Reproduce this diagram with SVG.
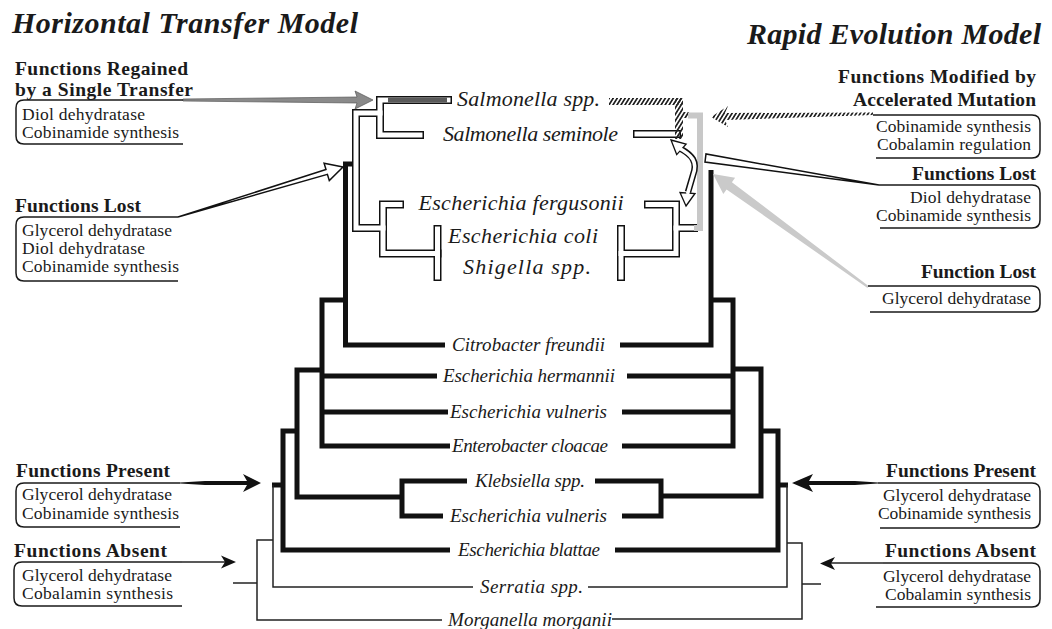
<svg xmlns="http://www.w3.org/2000/svg" xmlns:xlink="http://www.w3.org/1999/xlink" width="1052" height="629" viewBox="0 0 1052 629" font-family="'Liberation Serif', 'DejaVu Serif', serif">
<style>
text{font-family:'Liberation Serif','DejaVu Serif',serif;fill:#1a1a1a}
.title{font-weight:bold;font-style:italic;font-size:30px}
.hd{font-weight:bold;font-size:19.5px}
.bt{font-size:17.5px}
.sp{font-style:italic;font-size:19px;text-anchor:middle}
.spL{font-style:italic;font-size:22px;text-anchor:middle}
.end{text-anchor:end}
.br{fill:none;stroke:#1a1a1a;stroke-width:1.5}
.blk{fill:none;stroke:#111;stroke-width:5;stroke-linejoin:miter}
.thin{fill:none;stroke:#222;stroke-width:1.5}
.ob{fill:none;stroke:#111;stroke-width:8;stroke-linecap:square;stroke-linejoin:miter}
.ow{fill:none;stroke:#fff;stroke-width:5;stroke-linecap:square;stroke-linejoin:miter}
.hat{fill:url(#hatch)}
</style>
<defs>
<pattern id="hatch" width="3.4" height="10" patternUnits="userSpaceOnUse" patternTransform="rotate(32)">
<rect width="1.7" height="10" fill="#222"/>
</pattern>
<g id="outl">
<path d="M448,100 H380 V135 H420"/>
<path d="M380,113 H356 V228 H383"/>
<path d="M400,204.5 H383 V253.5 H437.5"/>
<path d="M437.5,229 V277"/>
<path d="M637,134 H677"/>
<path d="M648,204.5 H676 V253.5 H621"/>
<path d="M676,228 H694"/>
<path d="M621,229 V277"/>
</g>
</defs>
<rect width="1052" height="629" fill="#fff"/>

<g id="titles" font-family="Liberation Serif">
<text class="title" x="12" y="33" textLength="346" font-family="Liberation Serif">Horizontal Transfer Model</text>
<text class="title end" x="1041" y="44" textLength="294" font-family="Liberation Serif">Rapid Evolution Model</text>
</g>

<g id="connectors">
<use xlink:href="#outl" class="ob"/>
<use xlink:href="#outl" class="ow"/>
<path d="M388,100 H447" fill="none" stroke="#5a5a5a" stroke-width="5"/>
<rect class="hat" x="609" y="98" width="74" height="7"/>
<rect class="hat" x="675" y="98" width="8" height="41"/>
<rect class="hat" x="683" y="112" width="6" height="6"/>
<path d="M688,115.5 H700 V228 H694" fill="none" stroke="#c8c8c8" stroke-width="6"/>
<path class="blk" d="M353,164 H345.5 V345 H445"/>
<path class="blk" d="M345.5,300 H322 V446 H450"/>
<path class="blk" d="M322,376 H437"/>
<path class="blk" d="M322,412 H448"/>
<path class="blk" d="M322,370 H297 V497 H402"/>
<path class="blk" d="M467,481 H402 V516 H443"/>
<path class="blk" d="M297,431 H283 V550 H450"/>
<path class="blk" d="M272,485 H283"/>
<path class="thin" d="M273,485 V587 H473"/>
<path class="thin" d="M273,540 H257 V620 H442"/>
<path class="thin" d="M233,583 H257"/>
<path class="blk" d="M711,170 V345 H620"/>
<path class="blk" d="M711,300 H733 V446 H622"/>
<path class="blk" d="M733,376 H627"/>
<path class="blk" d="M733,412 H622"/>
<path class="blk" d="M733,369 H761 V496 H661"/>
<path class="blk" d="M595,481 H661 V516 H622"/>
<path class="blk" d="M761,431 H778 V550 H615"/>
<path class="blk" d="M778,485 H788"/>
<path class="thin" d="M787,485 V587 H588"/>
<path class="thin" d="M787,543 H802 V619 H612"/>
<path class="thin" d="M802,584 H821"/>
<polygon points="183,99 357,97 355,91 373,100 355,109 357,103 183,101" fill="#8a8a8a" stroke="#555" stroke-width="0.7"/>
<polygon points="178,217 326,169.5 324.1,163.3 343,167 329.3,180.5 327.4,174.3" fill="#fff" stroke="#111" stroke-width="1.5"/>
<polygon points="879,185 706,154 705,162" fill="#fff" stroke="#111" stroke-width="1.5"/>
<polygon points="868.5,286 731.9,182.2 735.1,177.7 713,174 723.3,193.9 726.6,189.4 867.5,288" fill="#cacaca"/>
<polygon class="hat" points="873,112.5 725,113 728,106 711,117 728,127 725,120 873,115"/>
<path d="M681,149 C692,155 698,162 693,175 L688,192" fill="none" stroke="#111" stroke-width="6.5"/>
<polygon points="671,140 686.1,144.2 676.7,154.6" fill="#fff" stroke="#111" stroke-width="1.3"/>
<polygon points="686,206 695,193.5 680,192.5" fill="#fff" stroke="#111" stroke-width="1.3"/>
<path d="M679,148 C692,155 698,162 693,175 L687.5,194" fill="none" stroke="#fff" stroke-width="3.5"/>
<polygon points="180,482.5 205,481 247,481 243,474 261,483 243,492 247,485 205,485 180,483.5" fill="#111"/>
<polygon points="878,482.5 855,481 809,481 813,474 792,483 813,492 809,485 855,485 878,483.5" fill="#111"/>
<path class="thin" d="M182,562 H226"/>
<polygon points="236,562 221,555.5 225,562 221,568.5" fill="#111"/>
<path class="thin" d="M883,563 H831"/>
<polygon points="820,563.5 835,557 831,563.5 835,570" fill="#111"/>
</g>

<g id="species" font-family="Liberation Serif">
<g id="sp-salmonella-spp"><text class="spL" x="528.5" y="106" textLength="143">Salmonella spp.</text></g>
<g id="sp-salmonella-seminole"><text class="spL" x="530.5" y="141" textLength="175">Salmonella seminole</text></g>
<g id="sp-e-fergusonii"><text class="spL" x="521" y="210" textLength="205">Escherichia fergusonii</text></g>
<g id="sp-e-coli"><text class="spL" x="523" y="243" textLength="150">Escherichia coli</text></g>
<g id="sp-shigella"><text class="spL" x="527" y="274" textLength="128">Shigella spp.</text></g>
<g id="sp-citrobacter"><text class="sp" x="528.5" y="351" textLength="153">Citrobacter freundii</text></g>
<g id="sp-e-hermannii"><text class="sp" x="529" y="382" textLength="172">Escherichia hermannii</text></g>
<g id="sp-e-vulneris-1"><text class="sp" x="528.5" y="418" textLength="157">Escherichia vulneris</text></g>
<g id="sp-enterobacter"><text class="sp" x="530" y="452" textLength="156">Enterobacter cloacae</text></g>
<g id="sp-klebsiella"><text class="sp" x="530" y="487" textLength="110">Klebsiella spp.</text></g>
<g id="sp-e-vulneris-2"><text class="sp" x="528.5" y="522" textLength="157">Escherichia vulneris</text></g>
<g id="sp-e-blattae"><text class="sp" x="529" y="556" textLength="142">Escherichia blattae</text></g>
<g id="sp-serratia"><text class="sp" x="531.5" y="593" textLength="103">Serratia spp.</text></g>
<g id="sp-morganella"><text class="sp" x="530" y="626" textLength="164">Morganella morganii</text></g>
</g>

<g id="note-regained">
<text class="hd" x="15" y="75" textLength="173">Functions Regained</text>
<text class="hd" x="15" y="96" textLength="178">by a Single Transfer</text>
<path class="br" d="M183,100 H24 Q16,100 16,108 V136 Q16,144 24,144 H183"/>
<text class="bt" x="22" y="120" textLength="123">Diol dehydratase</text>
<text class="bt" x="22" y="138" textLength="157">Cobinamide synthesis</text>
</g>
<g id="note-lost-left">
<text class="hd" x="15" y="212" textLength="126">Functions Lost</text>
<path class="br" d="M178,217 H24 Q16,217 16,225 V273 Q16,281 24,281 H178"/>
<text class="bt" x="22" y="236" textLength="150">Glycerol dehydratase</text>
<text class="bt" x="22" y="254" textLength="123">Diol dehydratase</text>
<text class="bt" x="22" y="272" textLength="157">Cobinamide synthesis</text>
</g>
<g id="note-present-left">
<text class="hd" x="16" y="477" textLength="154">Functions Present</text>
<path class="br" d="M180,483 H24 Q16,483 16,491 V519 Q16,527 24,527 H180"/>
<text class="bt" x="22" y="500" textLength="150">Glycerol dehydratase</text>
<text class="bt" x="22" y="519" textLength="157">Cobinamide synthesis</text>
</g>
<g id="note-absent-left">
<text class="hd" x="14" y="557" textLength="153">Functions Absent</text>
<path class="br" d="M182,562 H22 Q14,562 14,570 V598 Q14,606 22,606 H182"/>
<text class="bt" x="22" y="581" textLength="150">Glycerol dehydratase</text>
<text class="bt" x="22" y="599" textLength="151">Cobalamin synthesis</text>
</g>
<g id="note-modified">
<text class="hd end" x="1036" y="83" textLength="198">Functions Modified by</text>
<text class="hd end" x="1036" y="106" textLength="183">Accelerated Mutation</text>
<path class="br" d="M873,115 H1032 Q1040,115 1040,123 V150 Q1040,158 1032,158 H876"/>
<text class="bt end" x="1031" y="132" textLength="155">Cobinamide synthesis</text>
<text class="bt end" x="1031" y="150" textLength="154">Cobalamin regulation</text>
</g>
<g id="note-lost-right">
<text class="hd end" x="1036" y="180" textLength="124">Functions Lost</text>
<path class="br" d="M879,185 H1032 Q1040,185 1040,193 V220 Q1040,228 1032,228 H880"/>
<text class="bt end" x="1031" y="203" textLength="121">Diol dehydratase</text>
<text class="bt end" x="1031" y="221" textLength="155">Cobinamide synthesis</text>
</g>
<g id="note-function-lost">
<text class="hd end" x="1036" y="278" textLength="115">Function Lost</text>
<path class="br" d="M868,286 H1032 Q1040,286 1040,294 V304 Q1040,312 1032,312 H870"/>
<text class="bt end" x="1031" y="304" textLength="149">Glycerol dehydratase</text>
</g>
<g id="note-present-right">
<text class="hd end" x="1036" y="477" textLength="150">Functions Present</text>
<path class="br" d="M878,483 H1032 Q1040,483 1040,491 V520 Q1040,528 1032,528 H880"/>
<text class="bt end" x="1031" y="501" textLength="148">Glycerol dehydratase</text>
<text class="bt end" x="1031" y="519" textLength="153">Cobinamide synthesis</text>
</g>
<g id="note-absent-right">
<text class="hd end" x="1036" y="557" textLength="151">Functions Absent</text>
<path class="br" d="M883,563 H1032 Q1040,563 1040,571 V599 Q1040,607 1032,607 H876"/>
<text class="bt end" x="1031" y="582" textLength="148">Glycerol dehydratase</text>
<text class="bt end" x="1031" y="600" textLength="146">Cobalamin synthesis</text>
</g>
</svg>
